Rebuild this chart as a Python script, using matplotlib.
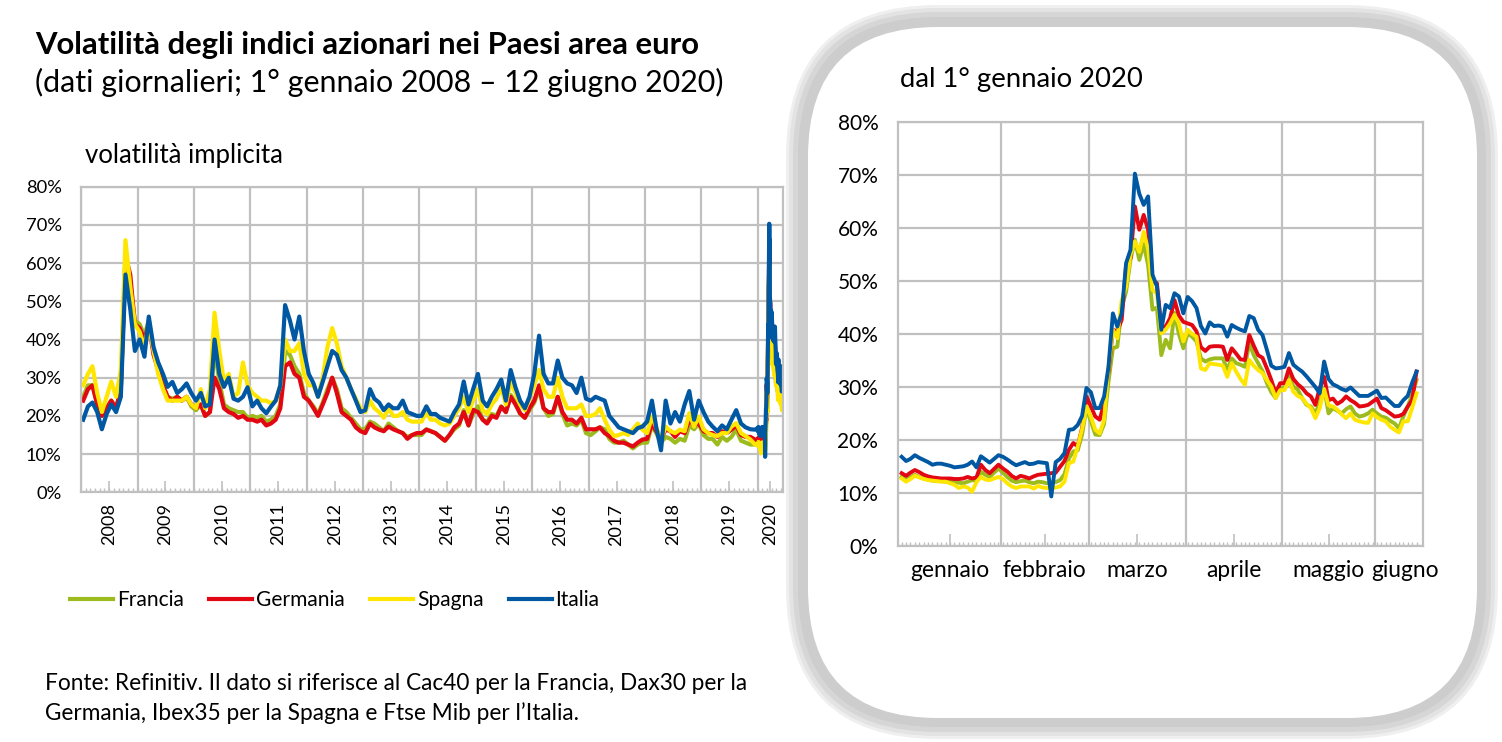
import numpy as np
import pandas as pd
import matplotlib
matplotlib.use('Agg')
import matplotlib.pyplot as plt
import matplotlib.dates as mdates
import matplotlib.transforms as mtransforms
from matplotlib.patches import FancyBboxPatch
from matplotlib.lines import Line2D
from matplotlib.ticker import FuncFormatter

plt.rcParams['font.family'] = ['Lato', 'DejaVu Sans']

series_names = ['Francia', 'Germania', 'Spagna', 'Italia']
series_colors = ['#9BBB1E', '#E30613', '#FFE600', '#0058A3']

# monthly readings Jan 2008 - Dec 2019 (%)
francia_monthly = [
    25, 28, 28, 23, 20, 22, 24, 22, 27, 60, 54, 45,
    44, 41, 45, 37, 32, 28, 25, 24.5, 25, 24, 25, 22.5,
    21.5, 23, 20, 21, 38, 29, 23, 22, 21.5, 21, 21, 19.5,
    20, 19.5, 20, 18.5, 19, 20, 23, 37, 36, 33, 31, 26,
    24, 22.5, 20.5, 23.5, 27, 30, 27, 22, 21, 19.5, 18, 16.5,
    16.5, 18.5, 18, 17, 16, 18, 17, 16, 15.5, 14.5, 15, 15,
    15, 16.5, 16, 15.5, 14.5, 13.5, 15, 16.5, 17.5, 21.5, 17.5, 20.5,
    22.5, 19, 18.5, 20.5, 20, 22.5, 21, 25.5, 23.5, 20.5, 19.5, 21.5,
    23.5, 27, 22, 20, 20.5, 25, 20.5, 17.5, 18, 17.5, 19, 15.5,
    15, 16, 17, 16.5, 14, 13, 13, 13.5, 12.5, 11.5, 12.5, 13,
    13, 17.5, 15.5, 13, 14.5, 14, 13, 14, 13.5, 17.5, 16.5, 18,
    15, 14, 14, 12.5, 14.5, 13.5, 14.5, 16.5, 13.5, 13, 12.5, 12.5,
]
germania_monthly = [
    24, 27, 28, 23, 20, 22, 24, 22, 27, 62, 57, 44,
    43, 40, 44, 36, 32, 28, 25, 24, 25, 24, 25, 23,
    22, 23, 20, 21, 30, 27, 22, 21, 20.5, 19.5, 20, 19,
    19, 18.5, 19, 17.5, 18, 19, 22, 33, 34, 31, 30, 25,
    24, 22, 20, 23, 26, 30, 26, 21, 20, 19, 17, 16,
    15.5, 18, 17, 16.4, 16, 17.2, 16.5, 16, 15.5, 14, 15, 15.5,
    15.5, 16.4, 16, 15.5, 14.5, 13.5, 15, 17, 18, 21, 17.5, 21.6,
    21, 19, 18, 20, 19.5, 22.4, 21, 25, 23, 20.7, 19.5, 22,
    24, 28, 22, 21, 21, 25, 21, 19, 19, 18, 19.5, 16.5,
    16.5, 16.5, 17, 15.5, 14.7, 13.5, 13, 13, 12.5, 12, 13, 13.8,
    14, 18, 16, 14, 16.4, 16, 14.5, 16, 15.5, 19, 17.5, 18.1,
    16, 15.5, 15.5, 14.5, 16, 15.5, 16.4, 17.5, 15, 14.5, 14.5, 13.8,
]
spagna_monthly = [
    28, 31, 33, 26, 21, 25, 29, 25, 32, 66, 54, 44,
    42, 38, 44, 37, 31, 27, 24, 24, 24, 24, 25, 23,
    22, 27, 22, 27, 47, 37, 29, 31, 25, 26, 34, 28,
    26, 25, 24, 24, 23.3, 24, 28, 40, 37, 37, 39, 31,
    28, 28, 25, 30, 38, 43, 39, 33, 30, 27, 24.5, 22,
    21, 24, 22, 21, 19.5, 22, 20, 20, 21, 19, 18.5, 18.5,
    18.5, 21, 19, 19, 18, 17.5, 18, 20, 22, 25, 21, 24,
    27, 21.5, 20.5, 23, 24.5, 27.5, 23, 29, 26, 23, 21.5, 24.5,
    28, 32, 27, 25, 25, 30, 25, 22, 22, 22, 23, 20,
    20, 20.5, 22, 19, 16.4, 14.7, 15, 15.5, 15, 16.5, 18, 16.4,
    15.5, 19.8, 17, 13.8, 17.2, 16, 15.5, 16.4, 16, 20.7, 17.2, 19.8,
    16.5, 15.5, 15, 14.7, 15.5, 15.5, 17.2, 18.1, 15.5, 14.7, 13.8, 12.5,
]
italia_monthly = [
    19, 22.5, 23.5, 21, 16.5, 20.5, 23, 21, 25, 57, 48, 37,
    40, 35.5, 46, 38, 34, 31, 27.6, 28.9, 26, 27, 28.5, 26,
    24, 26, 22.5, 23, 40, 31, 27.6, 30, 24.5, 24, 25, 27.5,
    22.5, 24, 22, 20.7, 22.4, 24, 28, 49, 45, 40, 46, 37,
    31, 28.5, 25, 29, 33, 37, 36, 32, 30, 27, 24, 21,
    21.5, 27, 24.5, 23.5, 21.5, 23, 22, 22, 24, 21, 20.5, 20,
    20, 22.5, 20.5, 20.5, 19.5, 19, 18.5, 21, 23, 29, 23, 27,
    31, 24, 22.5, 25, 27, 29.5, 24, 32, 27.5, 24, 22, 25,
    31, 41, 31, 28.5, 28.5, 34.5, 30, 28.5, 28, 26, 30, 24.5,
    24, 25, 24.5, 24, 20, 18.5, 17, 16.5, 16, 15.5, 16.8, 17.2,
    18.5, 24, 17, 11, 24, 18, 21, 18.5, 23, 26.5, 19, 24,
    21, 18.5, 17.2, 16, 17.5, 16.5, 19, 21.5, 18, 17, 16.5, 16.4,
]

# daily readings, business days 1 Jan - 12 Jun 2020 (%)
francia_2020 = [
    13.0, 12.5, 12.9, 13.4, 13.0, 12.7, 12.5, 12.3, 12.2, 12.2, 12.1, 12.1, 12.0, 11.9, 11.8, 12.1, 12.4, 12.2, 14.0, 13.4, 13.0, 13.8, 14.6,
    13.8, 13.0, 12.3, 12.0, 12.2, 12.3, 12.0, 11.8, 12.1, 12.0, 11.8, 11.9, 12.0, 12.4, 13.5, 16.5, 17.8, 18.0, 21.0, 26.0,
    23.5, 21.0, 20.9, 23.0, 31.0, 37.3, 37.6, 45.0, 48.0, 54.0, 57.8, 54.0, 57.0, 53.0, 44.6, 45.0, 36.0, 38.9, 37.3, 44.0, 40.0, 37.3,
    40.1, 39.5, 38.6, 35.4, 34.8, 35.2, 35.4, 35.4, 35.4, 33.2, 35.4, 34.5, 34.2, 33.8, 38.3, 36.0, 34.5, 33.0, 30.7, 29.0, 27.9, 29.8,
    29.8, 31.9, 30.1, 29.5, 27.9, 26.6, 26.3, 25.0, 26.9, 29.8, 25.0, 26.0, 25.5, 25.0, 25.8, 26.3, 25.0, 24.4, 24.6, 25.0, 25.7,
    25.0, 24.4, 24.2, 23.6, 23.1, 22.2, 24.4, 26.3, 28.5, 31.3,
]
germania_2020 = [
    13.7, 13.2, 13.8, 14.3, 13.9, 13.4, 13.1, 12.9, 12.8, 12.7, 12.7, 12.7, 12.6, 12.6, 12.7, 13.0, 12.7, 12.9, 15.3, 14.3, 13.7, 14.5, 15.3,
    14.6, 14.0, 13.2, 12.7, 13.2, 13.0, 12.7, 13.1, 13.4, 13.5, 13.6, 13.7, 13.8, 14.9, 16.0, 18.1, 19.4, 18.8, 22.2, 28.2,
    26.3, 24.4, 23.8, 26.9, 33.0, 40.8, 40.5, 42.7, 52.7, 54.3, 64.1, 59.7, 62.5, 59.7, 49.9, 49.6, 41.4, 41.4, 43.0, 46.4, 43.5, 42.3,
    42.0, 41.7, 40.5, 37.5, 36.8, 37.6, 37.7, 37.7, 37.6, 35.1, 37.3, 36.3, 35.2, 35.1, 39.8, 37.8, 36.0, 35.5, 33.5, 31.3, 28.8, 30.7,
    30.7, 33.5, 31.5, 30.5, 29.8, 28.8, 28.2, 26.6, 29.8, 31.9, 27.5, 27.8, 26.8, 27.3, 28.2, 27.5, 27.0, 26.3, 26.4, 26.6, 27.2,
    27.8, 26.0, 25.6, 25.0, 24.4, 24.5, 24.9, 26.3, 27.5, 32.9,
]
spagna_2020 = [
    12.7, 12.1, 12.6, 13.2, 12.9, 12.6, 12.4, 12.3, 12.2, 12.1, 12.1, 11.8, 11.5, 10.9, 11.2, 11.0, 10.2, 12.0, 13.0, 12.5, 12.4, 12.7, 13.0,
    12.6, 11.8, 11.2, 10.9, 11.2, 11.2, 11.2, 10.8, 11.3, 11.0, 10.9, 10.9, 11.0, 11.2, 12.1, 15.6, 15.9, 18.7, 22.0, 26.3,
    24.4, 21.9, 21.2, 23.8, 33.8, 40.8, 39.2, 46.4, 49.0, 55.0, 57.5, 55.5, 59.3, 56.0, 48.3, 47.7, 40.1, 40.8, 42.0, 43.6, 42.0, 38.6,
    40.8, 40.0, 39.5, 33.5, 33.2, 34.5, 34.3, 34.2, 34.0, 31.9, 34.5, 32.9, 31.5, 30.4, 35.1, 34.0, 33.2, 32.6, 31.3, 30.1, 27.9, 29.4,
    29.4, 31.3, 29.1, 28.3, 27.9, 26.8, 26.0, 24.1, 26.0, 29.6, 26.5, 26.3, 25.7, 24.8, 24.1, 25.0, 23.8, 23.5, 23.3, 23.2, 25.0,
    24.3, 23.8, 23.5, 22.5, 21.9, 21.4, 23.5, 23.5, 26.0, 28.8,
]
italia_2020 = [
    16.8, 16.0, 16.4, 17.1, 16.6, 16.2, 15.8, 15.3, 15.5, 15.5, 15.3, 15.1, 14.8, 14.9, 15.0, 15.3, 15.9, 14.8, 16.9, 16.3, 15.7, 16.4, 17.1,
    16.8, 16.3, 15.7, 15.2, 15.5, 15.8, 15.4, 15.5, 15.8, 15.7, 15.6, 9.3, 15.8, 16.4, 17.5, 21.9, 22.0, 22.8, 24.5, 29.8,
    29.0, 26.0, 26.0, 28.2, 33.8, 43.9, 41.4, 43.9, 53.4, 55.9, 70.3, 66.5, 64.4, 66.0, 51.2, 49.0, 40.8, 45.5, 44.9, 47.7, 47.1, 43.9,
    47.0, 46.2, 44.9, 41.5, 40.1, 42.2, 41.5, 41.6, 41.4, 39.5, 41.7, 41.2, 40.8, 40.5, 43.4, 43.0, 40.8, 39.8, 37.0, 34.0, 33.5, 33.6,
    33.8, 36.4, 34.2, 33.5, 32.9, 32.0, 31.0, 30.0, 28.8, 34.8, 31.5, 30.5, 30.1, 29.6, 29.3, 29.9, 29.1, 28.3, 28.3, 28.3, 28.8,
    29.3, 27.9, 28.0, 27.2, 26.4, 26.4, 27.5, 28.3, 30.8, 32.9,
]

month_labels = ['gennaio', 'febbraio', 'marzo', 'aprile', 'maggio', 'giugno']
year_labels = [str(y) for y in range(2008, 2021)]

W, H = 1502, 742
GRID = '#C0C0C0'

fig = plt.figure(figsize=(W / 100, H / 100), dpi=100)
renderer = fig.canvas.get_renderer()


def fit_size(text, target_px, **kw):
    # font size that gives the text the pixel width seen in the original
    t = fig.text(0, 0, text, fontsize=20, **kw)
    w = t.get_window_extent(renderer).width
    t.remove()
    return 20 * target_px / w


def box(x0, y0, x1, y1):
    return [x0 / W, 1 - y1 / H, (x1 - x0) / W, (y1 - y0) / H]


def pct(v, pos):
    return f'{v:.0f}%'


def style_axes(ax, label_size):
    ax.set_ylim(0, 80)
    ax.set_yticks(range(0, 81, 10))
    ax.yaxis.set_major_formatter(FuncFormatter(pct))
    ax.grid(True, which='major', color=GRID, lw=1.6)
    ax.set_axisbelow(True)
    for s in ax.spines.values():
        s.set_color(GRID)
        s.set_linewidth(1.6)
    ax.tick_params(axis='y', length=0, labelsize=label_size, pad=14)
    ax.tick_params(axis='x', which='major', length=0, labelbottom=False)


# ---- left chart: full period
dates_m = pd.date_range('2008-01-01', '2019-12-01', freq='MS') + pd.Timedelta(days=14)
dates_d = pd.bdate_range('2020-01-01', '2020-06-12')
x_left = np.concatenate([dates_m.values, dates_d.values])
left_series = [
    np.array(francia_monthly + francia_2020),
    np.array(germania_monthly + germania_2020),
    np.array(spagna_monthly + spagna_2020),
    np.array(italia_monthly + italia_2020),
]

ax1 = fig.add_axes(box(81, 186.7, 783, 492.3), zorder=1)
for vals, c in zip(left_series, series_colors):
    ax1.plot(x_left, vals, color=c, lw=3.0, solid_joinstyle='round')
style_axes(ax1, fit_size('80%', 36))
x_end = pd.Timestamp('2020-06-13')
ax1.set_xlim(pd.Timestamp('2008-01-01'), x_end)
ax1.xaxis.set_major_locator(mdates.YearLocator())
mid_years = [pd.Timestamp(f'{y}-07-01') for y in range(2008, 2020)]
mid_years.append(pd.Timestamp('2020-01-01') + (x_end - pd.Timestamp('2020-01-01')) / 2)
ax1.set_xticks(mdates.date2num(mid_years), labels=year_labels, minor=True)
ax1.tick_params(axis='x', which='minor', direction='in', length=8, width=1.2, color=GRID,
                labelsize=fit_size('2008', 42), labelrotation=90, pad=8)
sec1 = ax1.secondary_xaxis('bottom')
sec1.set_xticks(mdates.date2num(pd.date_range('2008-02-01', '2020-06-01', freq='MS')))
sec1.tick_params(direction='in', length=3, width=1, color=GRID, labelbottom=False)
sec1.spines['bottom'].set_visible(False)

fig.text(85 / W, 1 - 155 / H, 'volatilità implicita',
         fontsize=fit_size('volatilità implicita', 198), va='center')

# ---- rounded panel
bg = fig.add_axes([0, 0, 1, 1], zorder=2)
bg.set_xlim(0, W)
bg.set_ylim(H, 0)
bg.axis('off')
for pad, col in [(0, '#efefef'), (3, '#e3e3e3'), (7, '#d6d6d6'), (12, '#cdcdcd')]:
    bg.add_patch(FancyBboxPatch((786 + pad, 5 + pad), 1498 - 786 - 2 * pad, 739 - 5 - 2 * pad,
                                boxstyle=f'round,pad=0,rounding_size={152 - pad}', fc=col, ec='none'))
bg.add_patch(FancyBboxPatch((808, 27), 1477 - 808, 718 - 27,
                            boxstyle='round,pad=0,rounding_size=130', fc='white', ec='none'))

# ---- right chart: 2020
ax2 = fig.add_axes(box(897.7, 122.3, 1422.7, 545.7), zorder=3)
xpos = np.arange(len(italia_2020))
right_series = [francia_2020, germania_2020, spagna_2020, italia_2020]
for vals, c in zip(right_series, series_colors):
    ax2.plot(xpos, vals, color=c, lw=2.8, solid_joinstyle='round')
style_axes(ax2, fit_size('80%', 41))
ax2.set_xlim(-0.9, len(xpos) + 0.4)
months = dates_d.month.values
bounds = [i - 0.5 for i in range(1, len(months)) if months[i] != months[i - 1]]
centers = [xpos[months == m].mean() for m in np.unique(months)]
month_fs = fit_size('gennaio', 79)
ax2.set_xticks(bounds)
ax2.set_xticks(centers[:-1], labels=month_labels[:-1], minor=True)
ax2.tick_params(axis='x', which='minor', direction='in', length=9, width=1.2, color=GRID,
                labelsize=month_fs, pad=10)
# June is a partial month: its label starts at the month's gridline, same pad as the ticks
june_tr = ax2.get_xaxis_transform() + mtransforms.ScaledTranslation(0, -10 / 72, fig.dpi_scale_trans)
ax2.text(bounds[-1] - 0.7, 0, month_labels[-1], transform=june_tr,
         ha='left', va='top', fontsize=month_fs)
sec2 = ax2.secondary_xaxis('bottom')
sec2.set_xticks(xpos)
sec2.tick_params(direction='in', length=3, width=1, color=GRID, labelbottom=False)
sec2.spines['bottom'].set_visible(False)

fig.text(900 / W, 1 - 80 / H, 'dal 1° gennaio 2020',
         fontsize=fit_size('dal 1° gennaio 2020', 243), va='center', zorder=5)

# ---- titles, legend, source
title = 'Volatilità degli indici azionari nei Paesi area euro'
subtitle = '(dati giornalieri; 1° gennaio 2008 – 12 giugno 2020)'
fig.text(35 / W, 1 - 45 / H, title, fontsize=fit_size(title, 665, fontweight='bold'),
         fontweight='bold', va='center')
fig.text(35 / W, 1 - 82 / H, subtitle, fontsize=fit_size(subtitle, 690), va='center')

leg_fs = fit_size('Germania', 89)
em = leg_fs * 100 / 72
handles = [Line2D([], [], color=c, lw=3) for c in series_colors]
fig.legend(handles, series_names, loc='center', bbox_to_anchor=(335 / W, 1 - 600 / H), ncol=4,
           frameon=False, fontsize=leg_fs, handlelength=43 / em, handletextpad=4 / em,
           columnspacing=25 / em)

source1 = 'Fonte: Refinitiv. Il dato si riferisce al Cac40 per la Francia, Dax30 per la'
source2 = 'Germania, Ibex35 per la Spagna e Ftse Mib per l’Italia.'
src_fs = fit_size(source1, 705)
fig.text(45 / W, 1 - 683 / H, source1, fontsize=src_fs, va='center')
fig.text(45 / W, 1 - 713 / H, source2, fontsize=src_fs, va='center')

fig.savefig('out.png', dpi=100, facecolor='white')
